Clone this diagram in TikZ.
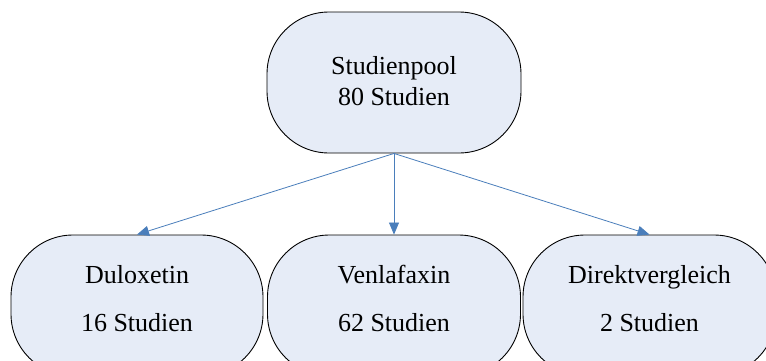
\documentclass[tikz,border=0pt]{standalone}
\usepackage{fontspec}
\setmainfont{Liberation Serif}
\usetikzlibrary{arrows.meta}
\definecolor{boxfill}{HTML}{E6ECF7}
\definecolor{arrowblue}{HTML}{4A7EBB}
\tikzset{
  stadiumbox/.style={rectangle,draw=black,line width=0.9pt,fill=boxfill,
    rounded corners=62pt,inner sep=0pt,minimum height=141pt},
  label/.style={anchor=base,inner sep=0pt,font=\fontsize{26}{31}\selectfont},
  conn/.style={draw=arrowblue,line width=0.8pt,-{Triangle[length=12pt,width=10pt]}}
}
\begin{document}
\begin{tikzpicture}[x=1pt,y=1pt]
\useasboundingbox (0,0) rectangle (766,360);
\clip (0,0) rectangle (766,360);
\node[stadiumbox,minimum width=254pt] (pool) at (394,277.5) {};
\node[stadiumbox,minimum width=252pt] (dul) at (137,54.5) {};
\node[stadiumbox,minimum width=253pt] (ven) at (394,54.5) {};
\node[stadiumbox,minimum width=253pt] (dir) at (649.5,54.5) {};
\node[label] (pool1) at (394,286) {Studienpool};
\node[label] (pool2) at (394,255) {80 Studien};
\node[label] (dul1) at (137,77) {Duloxetin};
\node[label] (dul2) at (137,29) {16 Studien};
\node[label] (ven1) at (394,77) {Venlafaxin};
\node[label] (ven2) at (394,29) {62 Studien};
\node[label] (dir1) at (649.5,77) {Direktvergleich};
\node[label] (dir2) at (649.5,29) {2 Studien};
\draw[conn] (pool.south) -- (dul.north);
\draw[conn] (pool.south) -- (ven.north);
\draw[conn] (pool.south) -- (dir.north);
\end{tikzpicture}
\end{document}
